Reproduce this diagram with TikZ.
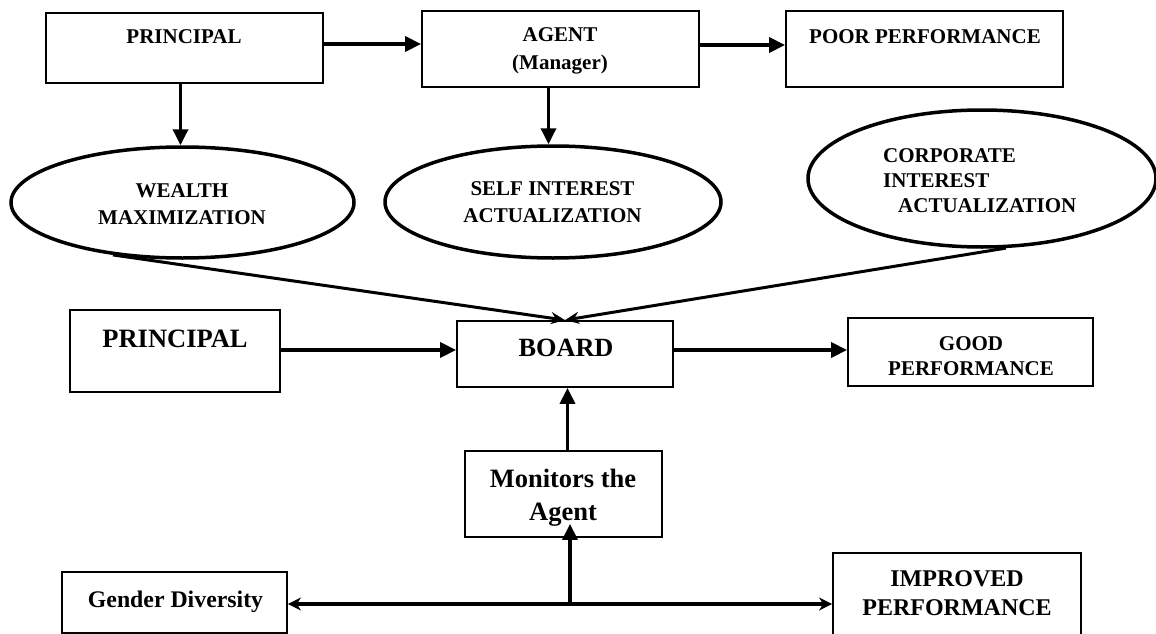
\documentclass[tikz,border=0pt]{standalone}
\usepackage{fontspec}
\setmainfont{Liberation Serif}
\usetikzlibrary{arrows.meta,shapes.geometric}

% bold text at a given size and line spacing
\newcommand\fs[2]{\bfseries\fontsize{#1}{#2}\selectfont}
% stacked lines whose baseline is that of the first line
\newcommand\lns[2][c]{\begin{tabular}[t]{@{}#1@{}}#2\end{tabular}}

\tikzset{
  box/.style={draw, rectangle, line width=1.8pt, inner sep=0pt},
  oval/.style={draw, ellipse, line width=3.5pt, inner sep=0pt},
  lbl/.style={inner sep=0pt, anchor=base},
  flow/.style={line width=3.5pt, -{Triangle[length=16pt,width=15pt]}},
  conv/.style={line width=3pt, -{Stealth[length=14pt,width=12pt]}},
  split/.style={line width=3.5pt, -{Stealth[length=13pt,width=13pt,inset=4pt]}},
}

\begin{document}
\begin{tikzpicture}[x=1pt,y=-1pt]
\useasboundingbox (0,0) rectangle (1156,634);

% upper row: principal, agent, outcome
\node[box, minimum width=277, minimum height=70] (p1) at (184.5,48) {};
\node[box, minimum width=277, minimum height=76] (agent) at (560.5,49) {};
\node[box, minimum width=277, minimum height=76] (poor) at (924.5,49) {};
\node[lbl, font=\fs{21}{28}] (tp1) at (184,44) {PRINCIPAL};
\node[lbl, font=\fs{21}{28}] (tagent) at (560,42) {\lns{AGENT\\(Manager)}};
\node[lbl, font=\fs{21}{28}] (tpoor) at (925,44) {POOR PERFORMANCE};

% interests
\node[oval, minimum width=343, minimum height=111] (wealth) at (182.5,202.5) {};
\node[oval, minimum width=336, minimum height=112] (self) at (553,202) {};
\node[oval, minimum width=348, minimum height=137] (corp) at (982,178.5) {};
\node[lbl, font=\fs{21}{27}] (twealth) at (182,197) {\lns{WEALTH\\MAXIMIZATION}};
\node[lbl, font=\fs{21}{27}] (tself) at (552.5,195) {\lns{SELF INTEREST\\ACTUALIZATION}};
\node[lbl, anchor=base west, font=\fs{21}{25}] (tcorp) at (883,162)
  {\lns[l]{CORPORATE\\INTEREST\\\hspace*{15pt}ACTUALIZATION}};

% board row
\node[box, minimum width=210, minimum height=82] (p2) at (175,351) {};
\node[box, minimum width=216, minimum height=66] (board) at (565,354) {};
\node[box, minimum width=245, minimum height=68] (good) at (970.5,352) {};
\node[lbl, font=\fs{26.5}{33}] (tp2) at (175,347) {PRINCIPAL};
\node[lbl, font=\fs{26.3}{33}] (tboard) at (566,356) {BOARD};
\node[lbl, font=\fs{21}{25}] (tgood) at (971,350) {\lns{GOOD\\PERFORMANCE}};

% monitoring and its effects
\node[box, minimum width=197, minimum height=86] (mon) at (563.5,494) {};
\node[box, minimum width=225, minimum height=61] (gender) at (174.5,602.5) {};
\node[box, minimum width=248, minimum height=97] (improved) at (957,601.5) {};
\node[lbl, font=\fs{26.5}{33}] (tmon) at (563,487) {\lns{Monitors the\\Agent}};
\node[lbl, font=\fs{23.8}{29}] (tgender) at (175.5,607) {Gender Diversity};
\node[lbl, font=\fs{24}{29}] (timproved) at (957,586) {\lns{IMPROVED\\PERFORMANCE}};

% connectors of the upper part
\draw[flow] ([yshift=4]p1.east) -- ([yshift=5]agent.west);
\draw[flow] ([yshift=4]agent.east) -- ([yshift=4]poor.west);
\draw[flow] ([xshift=-4]p1.south) -- ([xshift=-4]p1.south |- wealth.north);
\draw[flow] ([xshift=-12]agent.south) -- ([xshift=-12]agent.south |- self.north);
\draw[conv] (wealth.217) -- (board.north);
\draw[conv] (corp.289) -- (board.north);

% connectors of the board row
\draw[flow] ([yshift=1]p2.east) -- ([yshift=4]board.west);
\draw[flow] ([yshift=4]board.east) -- ([yshift=2]good.west);
\draw[flow] ([xshift=4]mon.north) -- ([xshift=4]mon.north |- board.south);

% split below the monitoring box
\coordinate (j) at (570,604);
\draw[flow, shorten >=-14pt] (j) -- (j |- mon.south);
\draw[split] (j) -- (j -| gender.east);
\draw[split] (j) -- (j -| improved.west);
\end{tikzpicture}
\end{document}
